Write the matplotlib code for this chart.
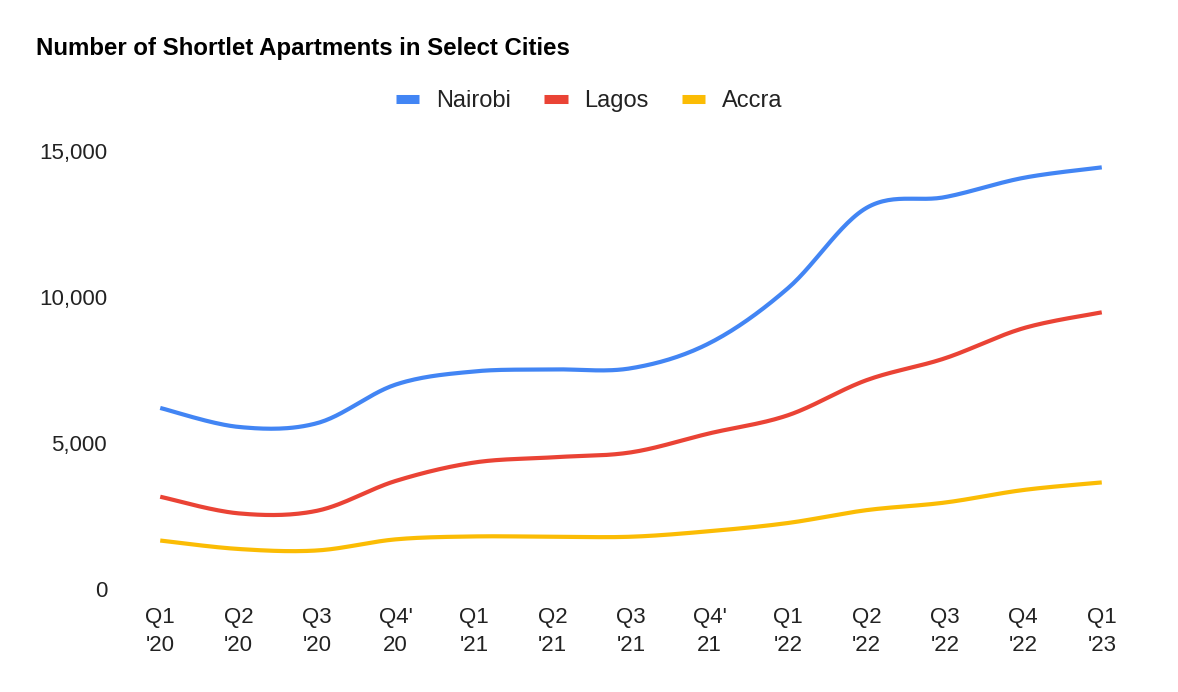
import numpy as np
import matplotlib.pyplot as plt
from matplotlib.lines import Line2D
from matplotlib.ticker import FuncFormatter

quarters = ["Q1\n'20", "Q2\n'20", "Q3\n'20", "Q4'\n20", "Q1\n'21", "Q2\n'21", "Q3\n'21",
            "Q4'\n21", "Q1\n'22", "Q2\n'22", "Q3\n'22", "Q4\n'22", "Q1\n'23"]
nairobi = [6200, 5550, 5680, 7000, 7450, 7520, 7560, 8420, 10300, 13050, 13420, 14080, 14440]
lagos = [3160, 2590, 2680, 3700, 4330, 4510, 4680, 5330, 5950, 7150, 7900, 8930, 9475]
accra = [1660, 1370, 1320, 1700, 1800, 1790, 1790, 1980, 2260, 2700, 2960, 3390, 3650]

series = [("Nairobi", nairobi, "#4285f4"),
          ("Lagos", lagos, "#ea4335"),
          ("Accra", accra, "#fbbc04")]


def smooth(xs, ys, n=30, tension=0.5):
    """ cardinal spline through the points, like the sheets 'smooth' option """
    xs = np.asarray(xs, float)
    ys = np.asarray(ys, float)
    px = np.concatenate([[xs[0]], xs, [xs[-1]]])
    py = np.concatenate([[ys[0]], ys, [ys[-1]]])
    out_x, out_y = [], []
    t = np.linspace(0, 1, n)
    for i in range(1, len(px) - 2):
        mx0 = (px[i + 1] - px[i - 1]) * tension
        mx1 = (px[i + 2] - px[i]) * tension
        my0 = (py[i + 1] - py[i - 1]) * tension
        my1 = (py[i + 2] - py[i]) * tension
        h00 = 2 * t**3 - 3 * t**2 + 1
        h10 = t**3 - 2 * t**2 + t
        h01 = -2 * t**3 + 3 * t**2
        h11 = t**3 - t**2
        out_x.append(h00 * px[i] + h10 * mx0 + h01 * px[i + 1] + h11 * mx1)
        out_y.append(h00 * py[i] + h10 * my0 + h01 * py[i + 1] + h11 * my1)
    return np.concatenate(out_x), np.concatenate(out_y)


plt.rcParams['font.family'] = ['Liberation Sans', 'DejaVu Sans']

fig = plt.figure(figsize=(11.78, 6.92), dpi=100)
ax = fig.add_axes([121 / 1178, (692 - 589) / 692, (1141 - 121) / 1178, (589 - 151) / 692])

x = np.arange(len(quarters))
for name, vals, color in series:
    sx, sy = smooth(x, vals)
    ax.plot(sx, sy, color=color, linewidth=3, solid_capstyle='butt', label=name)

ax.set_xlim(-0.5, len(quarters) - 0.5)
ax.set_ylim(0, 15000)
ax.set_yticks([0, 5000, 10000, 15000])
ax.yaxis.set_major_formatter(FuncFormatter(lambda v, p: f"{int(v):,}"))
ax.set_xticks(x)
ax.set_xticklabels(quarters, linespacing=1.45)
ax.tick_params(axis='both', length=0, labelsize=16, colors='#222222')
ax.tick_params(axis='x', pad=13)
ax.tick_params(axis='y', pad=10)
for s in ax.spines.values():
    s.set_visible(False)

fig.text(36 / 1178, 1 - 48 / 692, "Number of Shortlet Apartments in Select Cities",
         fontsize=17.3, fontweight='bold', va='center', ha='left', color='#000000')

handles = [Line2D([0], [0], color=c, linewidth=6.5, solid_capstyle='butt') for _, _, c in series]
fig.legend(handles, [n for n, _, _ in series], loc='center', bbox_to_anchor=(589 / 1178, 1 - 101 / 692),
           ncol=3, frameon=False, fontsize=17, handlelength=1.0, handletextpad=0.7, columnspacing=1.4,
           labelcolor='#222222')

fig.savefig("out.png", dpi=100)
